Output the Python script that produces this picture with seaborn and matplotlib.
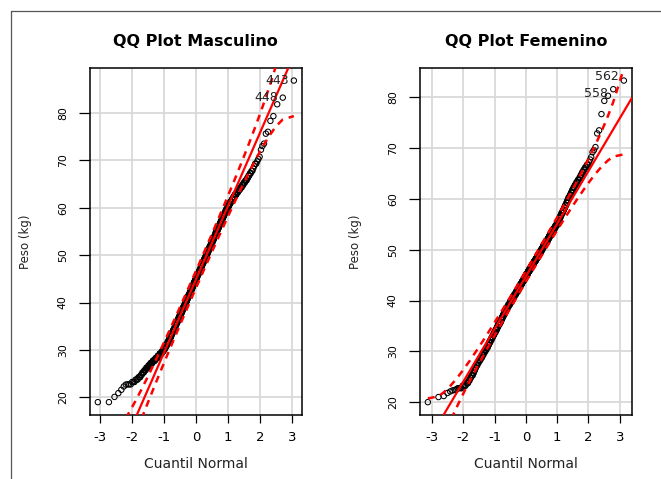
import numpy as np
import pandas as pd
import matplotlib
matplotlib.use("Agg")
import matplotlib.pyplot as plt
from matplotlib.lines import Line2D
import seaborn as sns
from statistics import NormalDist

# ---------------- data (weights in kg) ----------------
# Masculino: individually visible low tail, half-kg frequency table of the body, high tail
masc_low = [19.0, 19.0, 20.1, 20.9, 21.6, 22.3, 22.7]
masc_kg = list(np.arange(22.75, 71.5, 0.5))          # half-kg bins 22.75 ... 71.25
masc_cnt = [3, 3, 3, 3, 2, 3, 3, 4, 4, 5, 6, 6, 6, 7, 6, 5, 5, 4, 5, 5,
            4, 4, 5, 5, 4, 5, 5, 5, 5, 6, 5, 5, 5, 6, 6, 5, 5, 6, 6, 5,
            6, 6, 5, 6, 6, 6, 6, 6, 6, 5, 5, 6, 6, 6, 6, 5, 5, 5, 6, 5,
            5, 5, 5, 4, 5, 5, 5, 4, 4, 5, 4, 4, 4, 4, 5, 4, 4, 5, 4, 4,
            5, 4, 4, 4, 3, 3, 3, 2, 2, 2, 2, 1, 1, 2, 1, 1, 1, 0]
masc_high = [72.2, 73.0, 73.5, 75.6, 76.0, 78.3, 79.3, 81.8, 83.2, 86.8]
masc_ids = ["448", "443"]          # labels of the two largest values

# Femenino
fem_low = [20.0, 21.0, 21.2, 21.8, 22.1, 22.3, 22.4, 22.5]
fem_kg = list(np.arange(22.75, 68.5, 0.5))           # half-kg bins 22.75 ... 68.25
fem_cnt = [4, 4, 3, 2, 2, 3, 2, 2, 2, 3, 3, 4, 4, 4, 4, 5, 5, 4, 5, 5,
           5, 6, 6, 6, 6, 7, 7, 6, 7, 7, 7, 8, 9, 10, 10, 9, 10, 11, 11, 10,
           10, 11, 11, 10, 11, 11, 11, 11, 11, 11, 11, 10, 10, 10, 10, 9, 9, 10, 9, 8,
           8, 8, 8, 7, 7, 6, 5, 4, 4, 5, 4, 4, 4, 3, 3, 4, 3, 3, 3, 3,
           3, 3, 3, 2, 2, 2, 2, 2, 2, 1, 1, 1]
fem_high = [69.2, 69.6, 70.2, 72.9, 73.5, 76.7, 79.3, 80.3, 81.6, 83.3]
fem_ids = ["558", "562"]

titles = ["QQ Plot Masculino", "QQ Plot Femenino"]
x_ticks = [-3, -2, -1, 0, 1, 2, 3]
y_ticks = [20, 30, 40, 50, 60, 70, 80]

# ---------------- style ----------------
sns.set_style("white")
plt.rcParams["font.family"] = ["DejaVu Sans"]
plt.rcParams["axes.unicode_minus"] = False
plt.rcParams["text.color"] = "black"
plt.rcParams["axes.labelcolor"] = "black"

W, H = 661, 479
fig = plt.figure(figsize=(W / 100, H / 100), dpi=100)

def ax_rect(x0, x1, ytop, ybot):
    return [x0 / W, 1 - ybot / H, (x1 - x0) / W, (ybot - ytop) / H]

axes = [fig.add_axes(ax_rect(90, 301.7, 67.7, 415)),
        fig.add_axes(ax_rect(420, 631.7, 67.7, 415))]

nd = NormalDist()

def qq_panel(ax, low, kg, cnt, high, ids, title, label_dy):
    sample = np.sort(np.concatenate([low, np.repeat(kg, cnt), high]).astype(float))
    n = len(sample)
    P = (np.arange(1, n + 1) - 0.5) / n
    z = np.array([nd.inv_cdf(p) for p in P])
    # reference line through quartiles (car::qqPlot)
    qx = np.quantile(sample, [0.25, 0.75])
    qz = np.array([nd.inv_cdf(0.25), nd.inv_cdf(0.75)])
    b = (qx[1] - qx[0]) / (qz[1] - qz[0])
    a = qx[0] - b * qz[0]
    dn = np.exp(-z ** 2 / 2) / np.sqrt(2 * np.pi)
    se = (b / dn) * np.sqrt(P * (1 - P) / n)
    fit = a + b * z
    zz = nd.inv_cdf(0.975)
    df = pd.DataFrame({"z": z, "peso": sample,
                       "upper": fit + zz * se, "lower": fit - zz * se})

    ax.grid(True, color="#d9d9d9", lw=1.3)
    ax.set_axisbelow(True)
    sns.scatterplot(data=df, x="z", y="peso", ax=ax, marker="o", s=15,
                    facecolor="none", edgecolor="black", linewidth=0.75, zorder=3)
    ax.axline((0, a), slope=b, color="red", lw=1.6, zorder=4)
    for col in ["upper", "lower"]:
        sns.lineplot(data=df, x="z", y=col, ax=ax, color="red", lw=1.8,
                     linestyle=(0, (2.8, 2.4)), sort=False, estimator=None, zorder=4)

    # R style 4% expansion of the data range
    xr = z.max() - z.min()
    yr = sample.max() - sample.min()
    ax.set_xlim(z.min() - 0.04 * xr, z.max() + 0.04 * xr)
    ax.set_ylim(sample.min() - 0.04 * yr, sample.max() + 0.04 * yr)
    ax.set_xticks(x_ticks)
    ax.set_yticks(y_ticks)
    ax.set_xticklabels([str(t) for t in x_ticks])
    ax.set_yticklabels([str(t) for t in y_ticks])
    ax.tick_params(axis="x", direction="out", length=5.8, width=0.9, pad=6.0,
                   labelsize=9.5, colors="black", bottom=True)
    ax.tick_params(axis="y", direction="out", length=7.9, width=0.9, pad=8.0,
                   labelsize=7.8, colors="black", left=True, labelrotation=90)
    for lab in ax.get_yticklabels():
        lab.set_va("center")
    for sp in ax.spines.values():
        sp.set_visible(True)
        sp.set_color("black")
        sp.set_linewidth(1.1)

    ax.set_xlabel("Cuantil Normal", fontsize=10, color="#222222", va="center")
    ax.xaxis.set_label_coords(0.5, (415 - 464) / 347.3)
    ax.set_ylabel("Peso (kg)", fontsize=8.5, color="#222222", va="center")
    ax.yaxis.set_label_coords((25 - 90) / 211.7, 0.5)
    ax.set_title(title, fontsize=11.5, fontweight="bold", color="black",
                 y=(415 - 41) / 347.3, va="center", pad=0)

    # labels for the two most extreme points, to the left of each point
    for k, lab, dy in zip([n - 2, n - 1], ids, label_dy):
        ax.annotate(lab, (z[k], sample[k]), xytext=(-3.5, dy),
                    textcoords="offset points", ha="right", va="center",
                    fontsize=9, color="#222222", zorder=5)

qq_panel(axes[0], masc_low, masc_kg, masc_cnt, masc_high, masc_ids, titles[0],
         [0.0, 0.0])
qq_panel(axes[1], fem_low, fem_kg, fem_cnt, fem_high, fem_ids, titles[1],
         [-2.8, 2.8])

# screenshot frame lines
fig.add_artist(Line2D([10.5 / W, 10.5 / W], [0, 1 - 10.5 / H],
                      transform=fig.transFigure, color="#555555", lw=0.9))
fig.add_artist(Line2D([10.5 / W, 1], [1 - 10.5 / H, 1 - 10.5 / H],
                      transform=fig.transFigure, color="#555555", lw=0.9))

fig.savefig("out.png", dpi=100)
